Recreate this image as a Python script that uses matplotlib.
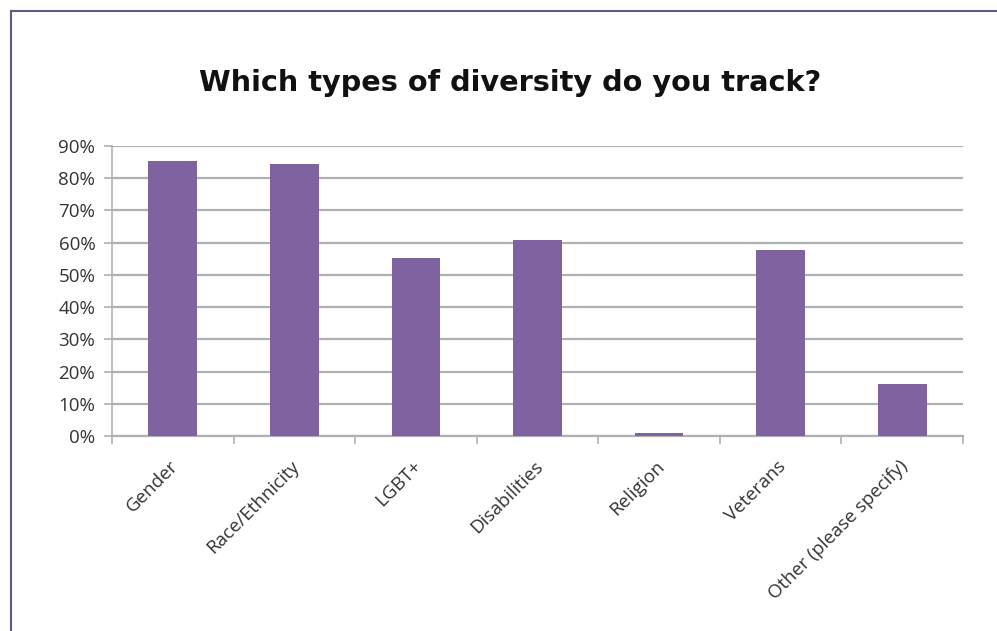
import matplotlib.pyplot as plt
from matplotlib.lines import Line2D
from matplotlib.ticker import PercentFormatter

categories = [
    "Gender",
    "Race/Ethnicity",
    "LGBT+",
    "Disabilities",
    "Religion",
    "Veterans",
    "Other (please specify)",
]
shares = [85.3, 84.4, 55.2, 60.8, 0.9, 57.7, 16.1]
y_ticks = [0, 10, 20, 30, 40, 50, 60, 70, 80, 90]

W, H = 997, 631
fig = plt.figure(
    figsize=(W / 100, H / 100),
    dpi=100
)

ax = fig.add_axes([
    112 / W,
    1 - 436 / H,
    (963 - 112) / W,
    (436 - 146) / H
])

x = range(len(categories))
ax.bar(
    x,
    shares,
    width=0.4,
    color="#7f63a1",
    zorder=3
)

ax.set_xlim(-0.5, len(categories) - 0.5)
ax.set_ylim(0, 90)
ax.set_yticks(y_ticks)
ax.yaxis.set_major_formatter(PercentFormatter(decimals=0))
ax.grid(
    axis="y",
    color="#b0b0b0",
    linewidth=1.6,
    zorder=0
)

for side in ["top", "right"]:
    ax.spines[side].set_visible(False)
ax.spines["left"].set_color("#b0b0b0")
ax.spines["bottom"].set_color("#b0b0b0")
ax.spines["left"].set_linewidth(1.2)
ax.spines["bottom"].set_linewidth(1.6)

# category separators as ticks
ax.set_xticks([i - 0.5 for i in range(len(categories) + 1)])
ax.set_xticklabels([])
ax.tick_params(
    axis="x",
    length=6,
    color="#b0b0b0",
    width=1.2
)
ax.tick_params(
    axis="y",
    length=6,
    color="#b0b0b0",
    width=1.2,
    labelsize=13.5,
    labelcolor="#333333",
    pad=6
)
for lab in ax.get_yticklabels():
    lab.set_fontfamily("Open Sans")

for i, name in enumerate(categories):
    ax.text(
        i - 0.03,
        -6.5,
        name,
        rotation=45,
        rotation_mode="anchor",
        ha="right",
        va="top",
        fontsize=13.5,
        color="#333333",
        fontfamily="Open Sans"
    )

fig.text(
    510 / W,
    1 - 83 / H,
    "Which types of diversity do you track?",
    ha="center",
    va="center",
    fontsize=20.7,
    fontweight="bold",
    fontfamily="DejaVu Sans",
    color="#111111"
)

# page frame
fig.add_artist(Line2D(
    [11 / W, 1],
    [1 - 11 / H, 1 - 11 / H],
    transform=fig.transFigure,
    color="#5b5b8c",
    linewidth=1.5
))
fig.add_artist(Line2D(
    [11 / W, 11 / W],
    [0, 1 - 11 / H],
    transform=fig.transFigure,
    color="#5b5b8c",
    linewidth=1.5
))

fig.savefig("out.png", dpi=100)
